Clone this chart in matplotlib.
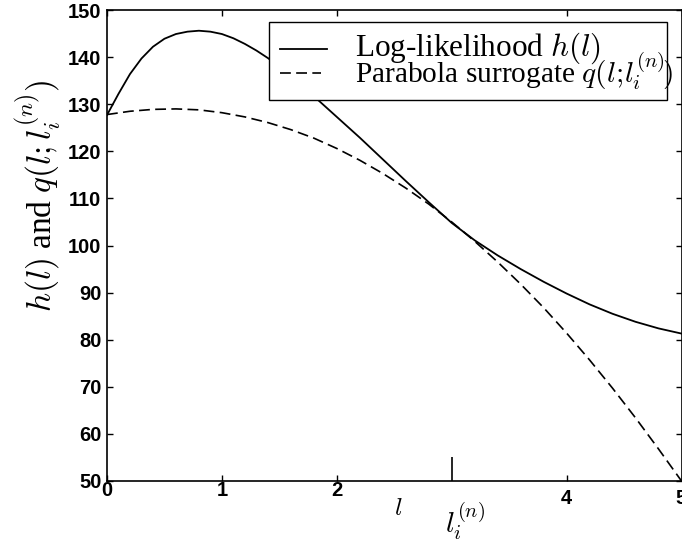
import matplotlib
matplotlib.use("Agg")
import matplotlib.pyplot as plt
from matplotlib.patches import Rectangle
from matplotlib.lines import Line2D

# ---- data ----
h_l = [0.0, 0.1, 0.2, 0.3, 0.4, 0.5, 0.6, 0.7, 0.8, 0.9, 1.0, 1.1, 1.2,
       1.3, 1.4, 1.5, 1.6, 1.7, 1.8, 1.9, 2.0, 2.2, 2.4, 2.6, 2.8, 3.0,
       3.2, 3.4, 3.6, 3.8, 4.0, 4.2, 4.4, 4.6, 4.8, 5.0]
h_values = [127.7, 132.2, 136.4, 139.7, 142.2, 143.9, 144.9, 145.4, 145.6,
            145.4, 144.9, 144.0, 142.8, 141.4, 139.8, 138.0, 136.0, 133.9,
            131.7, 129.5, 127.3, 122.9, 118.3, 113.7, 109.2, 104.8, 101.1,
            97.9, 95.0, 92.3, 89.8, 87.5, 85.5, 83.8, 82.4, 81.3]
q_l = [0.0, 0.2, 0.4, 0.6, 0.8, 1.0, 1.2, 1.4, 1.6, 1.8, 2.0, 2.2, 2.4,
       2.6, 2.8, 3.0, 3.2, 3.4, 3.6, 3.8, 4.0, 4.2, 4.4, 4.6, 4.8, 5.0]
q_values = [127.8, 128.5, 128.9, 129.0, 128.8, 128.2, 127.3, 126.1, 124.6,
            122.8, 120.6, 118.1, 115.3, 112.2, 108.8, 105.0, 100.9, 96.5,
            91.8, 86.8, 81.4, 75.7, 69.7, 63.4, 56.8, 50.0]
y_ticks = [50, 60, 70, 80, 90, 100, 110, 120, 130, 140, 150]
x_ticks = [0, 1, 2, 4, 5]
x_tick_labels = ["0", "1", "2", "4", "5"]
l_current = 3.0
legend_labels = ["Log-likelihood $h(l)$",
                 r"Parabola surrogate $q(l;\!l_i^{(n)}\!)$"]

W, H = 682, 543
plt.rcParams["mathtext.fontset"] = "cm"
fig = plt.figure(figsize=(W / 100, H / 100), dpi=100)

def fx(px):
    return px / W

def fy(py):
    return 1 - py / H

ax = fig.add_axes([fx(107), fy(481), (681.5 - 107) / W, (481 - 10) / H])
ax.plot(h_l, h_values, color="black", lw=1.3, solid_joinstyle="round")
ax.plot(q_l, q_values, color="black", lw=1.2, dashes=(6.5, 3.2))
ax.set_xlim(0, 5)
ax.set_ylim(50, 150)

for s in ax.spines.values():
    s.set_linewidth(1.2)

ax.set_yticks(y_ticks)
ax.set_yticklabels([str(v) for v in y_ticks], fontfamily="Liberation Sans",
                   fontweight="bold", fontsize=14.5)
ax.set_xticks(x_ticks)
ax.set_xticklabels([])
ax.set_xticks([l_current], minor=True)
ax.tick_params(which="major", direction="in", length=4.5, width=1.0,
               top=True, right=True, pad=4)
ax.tick_params(which="minor", direction="in", length=17, width=1.2,
               top=False, right=False, left=False, bottom=True)
ax.tick_params(axis="y", which="minor", left=False, right=False)

# x tick labels (drawn as text at the tick values)
xt = ax.get_xaxis_transform()
for v, lab in zip(x_ticks, x_tick_labels):
    yoff = -0.020 if v < 3 else -0.038
    ax.text(v, yoff, lab, transform=xt, ha="center", va="center",
            fontfamily="Liberation Sans", fontweight="bold", fontsize=14.5,
            clip_on=False)

# axis labels
fig.text(fx(398), fy(515), "$l$", ha="center", va="baseline", fontsize=18)
fig.text(fx(445), fy(533), "$l_i^{(n)}$", ha="left", va="baseline", fontsize=21)
fig.text(fx(38), fy(196), r"$h(l)$ and $q(l;l_i^{(n)})$", rotation=90,
         ha="center", va="center", fontsize=24, fontfamily="Liberation Serif")

# legend (manual box, text overflows the frame as in the reference)
fig.add_artist(Rectangle((fx(269), fy(100)), fx(666.5 - 269), (100 - 21.7) / H,
                         transform=fig.transFigure, facecolor="white",
                         edgecolor="black", lw=1.0, zorder=5))
fig.add_artist(Line2D([fx(280), fx(327)], [fy(49), fy(49)], color="black",
                      lw=1.3, transform=fig.transFigure, zorder=6))
fig.add_artist(Line2D([fx(280), fx(321)], [fy(73), fy(73)], color="black",
                      lw=1.2, dashes=(6.5, 3.2), transform=fig.transFigure,
                      zorder=6))
fig.text(fx(355), fy(55.5), legend_labels[0], ha="left", va="baseline",
         fontsize=22.5, fontfamily="Liberation Serif", zorder=7)
fig.text(fx(355), fy(82), legend_labels[1], ha="left", va="baseline",
         fontsize=21.2, fontfamily="Liberation Serif", zorder=7)

fig.savefig("out.png", dpi=100)
